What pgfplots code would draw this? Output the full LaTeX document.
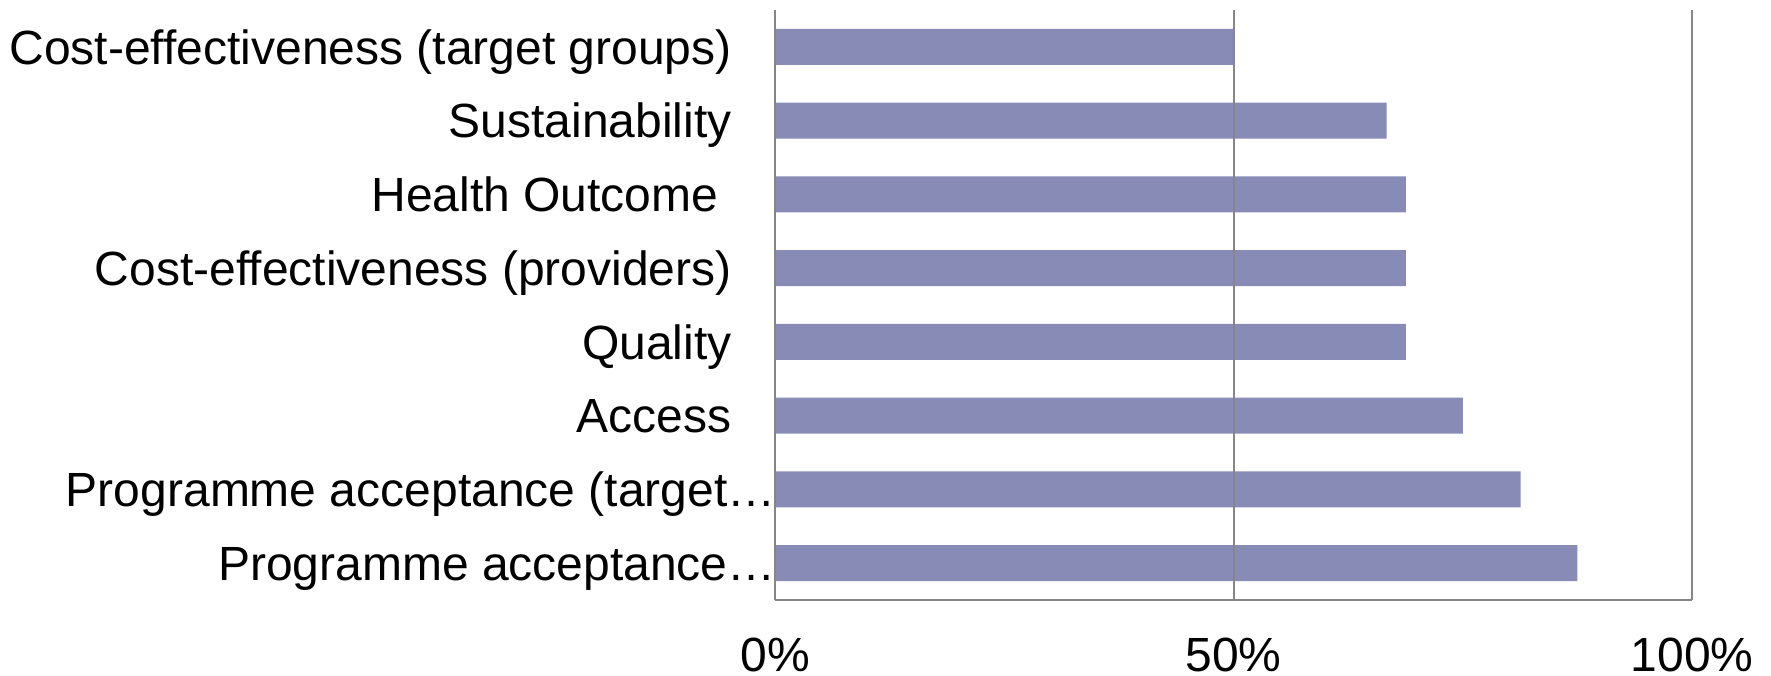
\documentclass[border=0pt]{standalone}
\usepackage{pgfplots}
\pgfplotsset{compat=1.18}
\usepackage{fontspec}
\setmainfont{Liberation Sans}
\definecolor{barc}{RGB}{137,139,183}
\definecolor{linec}{RGB}{134,134,134}
\newcommand{\overhang}[1]{\makebox[0pt][r]{#1\kern-22.5pt}}
\begin{document}
\begin{tikzpicture}
\begin{axis}[
  at={(387.5pt,37.5pt)}, anchor=south west,
  scale only axis, width=458.5pt, height=295pt,
  xbar, bar shift=0pt, bar width=17.9pt,
  xmin=0, xmax=100, ymin=-0.5, ymax=7.5,
  axis on top,
  axis x line*=bottom, axis y line*=left,
  axis line style={linec, line width=1pt},
  xmajorgrids, grid style={linec, line width=1pt},
  xtick={0,50,100}, xticklabels={0\%,50\%,100\%},
  ytick={0,1,2,3,4,5,6,7},
  yticklabels={\overhang{Programme acceptance…},
    \overhang{Programme acceptance (target…},
    Access, Quality, Cost-effectiveness (providers),
    Health Outcome\kern6.7pt, Sustainability, Cost-effectiveness (target groups)},
  major tick length=0pt,
  tick style={draw=none},
  /pgf/number format/assume math mode=true,
  xticklabel style={font=\fontsize{24}{28}\selectfont, anchor=north, inner sep=0pt, yshift=-19pt},
  yticklabel style={font=\fontsize{24}{28}\selectfont, anchor=base east, inner sep=0pt, xshift=-21.5pt, yshift=-8.6pt},
]
\addplot[draw=none, fill=barc] coordinates {
(87.5,0) (81.3,1) (75.0,2) (68.8,3) (68.8,4) (68.8,5) (66.7,6) (50.0,7)};
\end{axis}
\pgfresetboundingbox
\path (0,0) rectangle (885.5pt,337.5pt);
\end{tikzpicture}
\end{document}
